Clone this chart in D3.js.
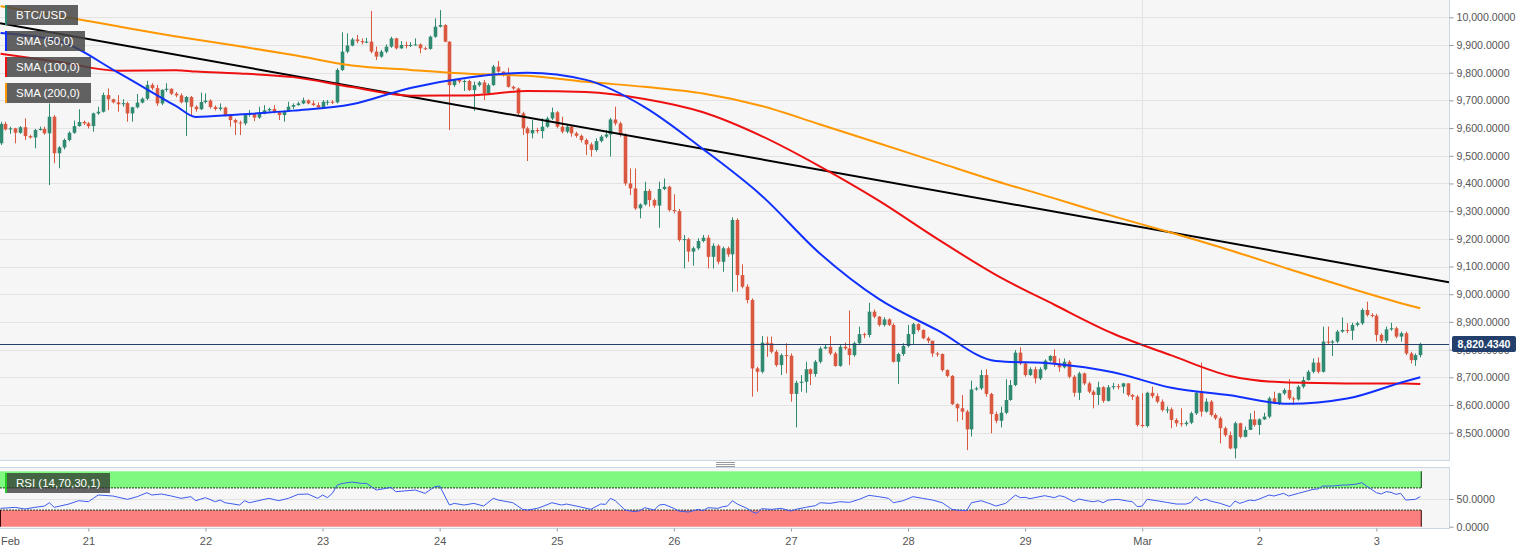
<!DOCTYPE html>
<html><head><meta charset="utf-8">
<script src="https://cdn.jsdelivr.net/npm/d3@7"></script>
<style>
body{margin:0;background:#fff;}
svg{display:block;font-family:"Liberation Sans",Arial,sans-serif;}
</style>
</head><body>
<svg id="chart" width="1536" height="553"></svg>
<script>
// ---------------- DATA ----------------
const symbol = "BTC/USD";
const firstCandleUTC = Date.UTC(2020, 1, 20, 6, 0); // hourly candles from Feb 20 06:00
const firstOpen = 9545;
const closes = [
9615,9595,9599,9583,9603,9571,9566,9593,9597,9581,9641,9509,9530,9557,9583,9607,9622,9617,9607,9653,
9659,9719,9704,9693,9686,9690,9653,9675,9692,9706,9756,9744,9689,9738,9742,9724,9718,9693,9712,9677,
9668,9694,9699,9676,9669,9674,9647,9629,9620,9617,9647,9653,9638,9653,9664,9669,9657,9647,9662,9677,
9683,9689,9700,9689,9683,9674,9695,9695,9693,9810,9876,9898,9920,9914,9910,9912,9876,9858,9876,9894,
9924,9888,9900,9898,9900,9902,9888,9886,9930,9966,9972,9912,9755,9774,9768,9770,9737,9755,9765,9725,
9755,9822,9804,9792,9749,9743,9653,9599,9581,9593,9589,9605,9635,9657,9605,9587,9605,9581,9572,9557,
9541,9521,9553,9569,9577,9631,9617,9575,9400,9382,9310,9324,9373,9340,9320,9380,9388,9304,9300,9196,
9199,9154,9166,9192,9204,9135,9175,9117,9166,9144,9268,9069,9027,8979,8732,8720,8825,8823,8792,8744,
8780,8778,8640,8680,8684,8729,8712,8756,8804,8810,8786,8741,8810,8804,8780,8823,8856,8853,8937,8919,
8889,8909,8889,8756,8784,8813,8856,8892,8871,8841,8832,8786,8784,8726,8705,8603,8588,8576,8512,8656,
8660,8708,8640,8567,8543,8572,8618,8672,8789,8750,8708,8729,8696,8729,8760,8777,8750,8736,8756,8702,
8644,8714,8678,8648,8636,8664,8615,8664,8668,8666,8678,8636,8630,8528,8524,8644,8632,8612,8582,8584,
8546,8534,8531,8536,8570,8644,8576,8612,8564,8552,8516,8491,8443,8534,8485,8510,8548,8528,8548,8558,
8624,8606,8642,8654,8624,8620,8666,8690,8720,8753,8720,8829,8825,8829,8865,8871,8868,8889,8895,8943,
8925,8922,8853,8832,8873,8877,8847,8859,8786,8762,8780,8820.434];
const highs = [
9623,9623,9605,9601,9607,9635,9576,9597,9605,9605,9689,9647,9535,9562,9588,9627,9668,9627,9622,9656,
9677,9728,9743,9706,9719,9704,9695,9677,9723,9711,9771,9762,9756,9740,9762,9743,9730,9725,9716,9716,
9682,9728,9725,9704,9682,9689,9677,9651,9634,9627,9651,9665,9645,9677,9683,9674,9683,9662,9665,9695,
9689,9695,9710,9704,9700,9693,9701,9701,9701,9816,9946,9942,9926,9936,9924,9926,10023,9894,9882,9902,
9930,9926,9914,9912,9910,9924,9906,9894,9934,9996,10026,9975,9914,9777,9775,9775,9774,9768,9770,9774,
9761,9828,9842,9804,9818,9753,9746,9659,9605,9629,9601,9635,9641,9674,9662,9641,9613,9609,9587,9577,
9563,9548,9563,9575,9593,9637,9677,9623,9581,9454,9454,9328,9406,9380,9346,9406,9418,9392,9361,9308,
9214,9204,9172,9202,9214,9214,9184,9180,9172,9172,9278,9274,9108,9036,8985,8738,8849,8847,8847,8799,
8786,8823,8786,8688,8708,8756,8732,8762,8811,8817,8849,8792,8817,8825,8941,8829,8883,8861,8969,8945,
8921,8917,8913,8895,8789,8823,8889,8897,8895,8873,8847,8832,8792,8786,8729,8708,8606,8636,8582,8688,
8666,8726,8729,8644,8576,8594,8693,8690,8798,8808,8756,8736,8738,8736,8765,8780,8801,8768,8768,8762,
8708,8720,8717,8684,8654,8684,8668,8672,8680,8676,8680,8664,8640,8636,8642,8648,8666,8642,8620,8594,
8591,8552,8588,8543,8576,8648,8753,8624,8618,8570,8558,8522,8504,8540,8536,8522,8570,8579,8552,8572,
8630,8648,8644,8660,8693,8630,8672,8702,8726,8768,8772,8883,8883,8835,8871,8916,8895,8897,8901,8949,
8973,8931,8929,8859,8883,8897,8883,8865,8865,8792,8786,8825];
const lows = [
9539,9591,9579,9545,9579,9557,9562,9527,9591,9576,9394,9473,9455,9523,9552,9579,9605,9611,9599,9587,
9648,9656,9665,9689,9659,9677,9623,9623,9671,9689,9701,9737,9680,9683,9731,9719,9711,9689,9571,9647,
9659,9665,9689,9670,9663,9663,9641,9605,9575,9575,9610,9641,9625,9633,9650,9659,9653,9629,9623,9659,
9669,9680,9686,9686,9680,9669,9669,9683,9686,9689,9806,9870,9895,9906,9902,9906,9870,9846,9854,9870,
9890,9884,9886,9888,9893,9898,9870,9882,9883,9926,9963,9910,9593,9749,9761,9734,9734,9662,9749,9701,
9722,9753,9800,9786,9746,9737,9647,9575,9481,9563,9581,9563,9601,9629,9599,9581,9581,9569,9565,9548,
9503,9497,9515,9548,9563,9497,9609,9569,9392,9358,9304,9274,9320,9316,9312,9240,9376,9298,9292,9190,
9093,9117,9103,9160,9187,9093,9093,9108,9081,9135,9009,9009,9021,8967,8630,8648,8714,8774,8786,8738,
8708,8714,8612,8519,8648,8644,8672,8702,8750,8801,8780,8738,8738,8799,8744,8774,8817,8841,8844,8913,
8883,8883,8885,8753,8676,8777,8808,8817,8865,8837,8823,8774,8774,8720,8700,8600,8540,8546,8437,8486,
8652,8654,8630,8498,8534,8519,8567,8615,8668,8744,8702,8705,8678,8690,8724,8756,8738,8720,8732,8696,
8630,8618,8672,8642,8588,8600,8608,8612,8656,8656,8642,8630,8618,8522,8519,8519,8624,8606,8576,8570,
8516,8522,8522,8524,8531,8564,8558,8572,8558,8546,8461,8485,8440,8407,8479,8483,8512,8522,8492,8546,
8552,8603,8600,8636,8618,8600,8616,8660,8688,8714,8714,8717,8817,8777,8823,8861,8859,8835,8883,8889,
8919,8916,8829,8825,8823,8868,8841,8829,8780,8750,8741,8772];

// moving averages at these candle indices
const smaIdx = [0,12,24,36,40,48,60,72,84,96,108,120,132,144,156,168,180,192,204,216,228,240,252,264,276,288,291];
const sma50  = [9943,9914,9801,9679,9640,9648,9663,9686,9745,9783,9800,9774,9676,9524,9356,9146,8983,8870,8759,8749,8718,8662,8635,8604,8623,8686,8700];
const sma100 = [9868,9839,9807,9809,9804,9798,9784,9748,9717,9718,9734,9730,9705,9657,9571,9461,9338,9200,9070,8962,8858,8779,8705,8681,8678,8678,8676];
const sma200 = [10040,10005,9968,9931,9920,9898,9864,9826,9810,9796,9789,9767,9749,9725,9680,9613,9545,9477,9409,9346,9282,9222,9159,9091,9025,8963,8949];

// trend line anchors (candle index, price)
const trendIdx = [0, 291];
const trendVal = [9978, 9062];

const lastPrice = 8820.434;

const rsiIdx = [0,3,5,7,9,10,11,14,16,18,19,20,23,26,28,30,31,33,35,37,39,40,42,44,45,46,49,50,51,55,57,59,61,63,65,66,67,68,69,70,72,74,75,77,79,80,81,85,87,89,90,92,93,95,97,99,101,102,105,107,108,110,111,113,115,116,118,121,123,124,125,126,128,130,131,132,134,135,136,138,139,141,143,144,145,147,148,149,150,151,153,154,155,156,158,160,162,163,165,167,168,170,172,174,176,178,180,182,183,185,187,189,191,193,195,196,198,199,201,203,204,206,208,209,210,211,212,214,216,217,218,220,221,223,224,225,226,227,229,231,232,233,234,235,237,239,241,243,244,245,246,247,248,250,252,253,254,255,256,257,258,260,261,263,264,266,268,269,270,271,273,275,276,278,279,280,282,283,284,285,286,287,288,290,291];
const rsiVal = [33.1,34.9,31.9,34.9,37.3,43.3,34.9,40.9,46.9,45.1,51.2,57.2,55.4,49.4,54.2,61.4,57.2,59,55.4,51.2,54.2,46.9,52.4,45.1,48.1,43.3,39.1,46.9,43.3,51.2,46.9,51.2,58.4,59,51.2,57.2,52.4,60.2,75,78,80.6,78.2,78.2,66.2,69.2,71,63.2,66.2,60.2,72.2,73.4,39.1,42.1,39.1,42.1,37.3,51.2,48.1,43.3,31.3,30.1,33.1,36.1,43.3,39.1,40.9,37.3,31.3,40.9,40.3,51.2,46.9,30.1,27.1,28.9,34.3,30.1,39.1,40.3,33.1,28.3,26.5,31.3,28.9,34.3,33.1,36.1,37.3,46.9,40.9,33.1,27.1,24.1,32.5,31.3,33.1,28.3,31.3,34.9,37.9,43.3,42.1,45.1,43.9,49.4,56.6,54.2,51.2,43.3,46.9,54.2,51.2,48.1,43.3,31.3,30.1,28.9,43.3,46.9,40.9,37.3,42.1,57,52.4,53,50.6,52.4,56,52.4,56,54.2,45.1,50,46.3,45.1,46.9,43.3,48.1,49.4,46.3,45.1,36.1,37.3,49.4,46.9,43.9,40.9,40.9,43.9,54.2,46.9,50,46.3,42.1,36.1,46.3,42.1,45.1,48.1,46.9,50,57.2,55.4,60.2,55.4,60.2,65,67.4,68,73.4,73.4,75.2,75.2,77,79.4,73.4,61.4,59,63.2,62,58.4,60.2,48.1,49.4,54.2];

const priceTicks = [8500,8600,8700,8800,8900,9000,9100,9200,9300,9400,9500,9600,9700,9800,9900,10000];
const rsiTicks = [0, 50];
const rsiLevels = [30, 70];
const legendItems = [
  {label: "BTC/USD", color: "#2a8a72"},
  {label: "SMA (50,0)", color: "#1030ff"},
  {label: "SMA (100,0)", color: "#ee1010"},
  {label: "SMA (200,0)", color: "#ff9800"}
];
const legendW = [73, 80, 86, 86];
const rsiLabel = "RSI (14,70,30,1)";

// ---------------- LAYOUT ----------------
const plotR = 1449, mainTop = 0, mainBot = 460, rsiTop = 468, rsiBot = 528;
const svg = d3.select("#chart");
const HOUR = 3600e3;
const time = i => new Date(firstCandleUTC + i * HOUR);

const x = d3.scaleUtc()
  .domain([new Date(Date.UTC(2020,1,20,5,53)), new Date(Date.UTC(2020,2,3,14,53))])
  .range([0, plotR]);
const y = d3.scaleLinear().domain([8401.3, 10062.5]).range([mainBot, mainTop]);
const yr = d3.scaleLinear().domain([0, 100]).range([526.7, 471.3]);

const UP = "#2f8a71", DOWN = "#d9583f";
const plotBg = "#f6f6f6", frame = "#cdd6e6", grid = "#e3e3e3", axisText = "#555";

svg.append("rect").attr("width", 1536).attr("height", 553).attr("fill", "#fff");
svg.append("rect").attr("x", 0).attr("y", mainTop).attr("width", plotR).attr("height", mainBot - mainTop).attr("fill", plotBg);
svg.append("rect").attr("x", 0).attr("y", rsiTop).attr("width", plotR).attr("height", rsiBot - rsiTop).attr("fill", plotBg);

const defs = svg.append("defs");
defs.append("clipPath").attr("id", "clipMain")
  .append("rect").attr("x", 0).attr("y", mainTop).attr("width", plotR).attr("height", mainBot - mainTop);
defs.append("clipPath").attr("id", "clipRsi")
  .append("rect").attr("x", 0).attr("y", rsiTop).attr("width", plotR).attr("height", rsiBot - rsiTop);

// grid
const gMain = svg.append("g").attr("clip-path", "url(#clipMain)");
gMain.selectAll("line.h").data(priceTicks).join("line")
  .attr("x1", 0).attr("x2", plotR)
  .attr("y1", d => Math.round(y(d)) + 0.5).attr("y2", d => Math.round(y(d)) + 0.5)
  .attr("stroke", grid).attr("stroke-width", 1);
const marX = Math.round(x(new Date(Date.UTC(2020,2,1)))) + 0.5;
gMain.append("line").attr("x1", marX).attr("x2", marX).attr("y1", mainTop).attr("y2", mainBot)
  .attr("stroke", "#e2e2e2");

// candles
const candles = closes.map((c, i) => {
  const o = i === 0 ? firstOpen : closes[i - 1];
  return {t: time(i), o, c, h: Math.max(highs[i], o, c), l: Math.min(lows[i], o, c)};
});
const cg = gMain.append("g");
cg.selectAll("line.wick").data(candles).join("line")
  .attr("x1", d => Math.round(x(d.t)) + 0.5).attr("x2", d => Math.round(x(d.t)) + 0.5)
  .attr("y1", d => y(d.h)).attr("y2", d => y(d.l))
  .attr("stroke", d => d.c >= d.o ? UP : DOWN).attr("stroke-width", 1);
cg.selectAll("rect.body").data(candles).join("rect")
  .attr("x", d => Math.round(x(d.t)) - 1.3).attr("width", 3.6)
  .attr("y", d => y(Math.max(d.o, d.c)))
  .attr("height", d => Math.max(1, Math.abs(y(d.o) - y(d.c))))
  .attr("fill", d => d.c >= d.o ? UP : DOWN);

// trend line extended over full width
const slope = (trendVal[1] - trendVal[0]) / (trendIdx[1] - trendIdx[0]);
const idxAt = t => (t - firstCandleUTC) / HOUR;
const [d0, d1] = x.domain();
const tv = t => trendVal[0] + slope * (idxAt(t) - trendIdx[0]);
gMain.append("line")
  .attr("x1", x(d0)).attr("y1", y(tv(d0)))
  .attr("x2", x(d1)).attr("y2", y(tv(d1)))
  .attr("stroke", "#000").attr("stroke-width", 2);

// SMAs
const smaLine = d3.line().x(d => x(time(d[0]))).y(d => y(d[1])).curve(d3.curveMonotoneX);
[[sma200, "#ff9800"], [sma100, "#ee1010"], [sma50, "#1030ff"]].forEach(([vals, col]) => {
  gMain.append("path").datum(smaIdx.map((k, j) => [k, vals[j]]))
    .attr("d", smaLine).attr("fill", "none").attr("stroke", col).attr("stroke-width", 2);
});

// current price line
const yp = Math.round(y(lastPrice)) + 0.5;
svg.append("line").attr("x1", 0).attr("x2", plotR).attr("y1", yp).attr("y2", yp)
  .attr("stroke", "#22406b").attr("stroke-width", 1);

// frames
svg.append("line").attr("x1", plotR + 0.5).attr("x2", plotR + 0.5).attr("y1", mainTop).attr("y2", mainBot).attr("stroke", frame);
svg.append("line").attr("x1", 0).attr("x2", plotR + 1).attr("y1", mainBot + 0.5).attr("y2", mainBot + 0.5).attr("stroke", frame);
svg.append("line").attr("x1", plotR + 0.5).attr("x2", plotR + 0.5).attr("y1", rsiTop).attr("y2", rsiBot).attr("stroke", frame);
svg.append("line").attr("x1", 0).attr("x2", plotR + 1).attr("y1", rsiBot + 0.5).attr("y2", rsiBot + 0.5).attr("stroke", frame);
svg.append("line").attr("x1", 0).attr("x2", plotR + 1).attr("y1", rsiTop - 0.5).attr("y2", rsiTop - 0.5).attr("stroke", frame);
[462.5, 464.5, 466.5].forEach(hy => svg.append("line").attr("x1", 716).attr("x2", 735).attr("y1", hy).attr("y2", hy).attr("stroke", "#9a9a9a"));

// price axis
const yAxis = d3.axisRight(y).tickValues(priceTicks).tickFormat(d3.format(",.4f")).tickSize(4).tickPadding(3);
const ga = svg.append("g").attr("transform", `translate(${plotR + 0.5},0)`).call(yAxis);
ga.select(".domain").remove();
ga.selectAll("line").attr("stroke", "#999");
ga.selectAll("text").attr("fill", axisText).attr("font-size", 10.6).attr("font-family", "Liberation Sans, Arial, sans-serif");

// last price label (drawn over the axis, as in the reference)
svg.append("rect").attr("x", 1452).attr("y", yp - 8.5).attr("width", 64).attr("height", 16).attr("rx", 2).attr("fill", "#22406b");
svg.append("text").attr("x", 1484).attr("y", yp + 3.5).attr("text-anchor", "middle")
  .attr("fill", "#fff").attr("font-size", 10.6).attr("font-weight", "bold").text(d3.format(",.4f")(lastPrice));

// ---- RSI panel ----
const gR = svg.append("g").attr("clip-path", "url(#clipRsi)");
const xEnd = x(time(closes.length - 1)) + 1;
gR.append("line").attr("x1", 0).attr("x2", plotR).attr("y1", Math.round(yr(50)) + 0.5).attr("y2", Math.round(yr(50)) + 0.5).attr("stroke", grid);
gR.append("line").attr("x1", marX).attr("x2", marX).attr("y1", rsiTop).attr("y2", rsiBot).attr("stroke", "#e2e2e2");
gR.append("rect").attr("x", 0).attr("width", xEnd).attr("y", yr(100)).attr("height", yr(rsiLevels[1]) - yr(100)).attr("fill", "#80f980");
gR.append("rect").attr("x", 0).attr("width", xEnd).attr("y", yr(rsiLevels[0])).attr("height", yr(0) - yr(rsiLevels[0])).attr("fill", "#fb7f7f");
gR.selectAll("line.lvl").data(rsiLevels).join("line")
  .attr("x1", 0).attr("x2", xEnd).attr("y1", d => yr(d)).attr("y2", d => yr(d))
  .attr("stroke", "#1d3a1d").attr("stroke-dasharray", "2,1").attr("stroke-width", 1);
gR.append("line").attr("x1", xEnd).attr("x2", xEnd).attr("y1", yr(100)).attr("y2", yr(rsiLevels[1])).attr("stroke", "#0a3a0a");
gR.append("line").attr("x1", xEnd).attr("x2", xEnd).attr("y1", yr(rsiLevels[0])).attr("y2", yr(0)).attr("stroke", "#3a0a0a");
gR.append("line").attr("x1", 0.5).attr("x2", 0.5).attr("y1", yr(rsiLevels[0])).attr("y2", yr(0)).attr("stroke", "#3a0a0a");
gR.append("path").datum(rsiIdx.map((k, j) => [k, rsiVal[j]]))
  .attr("d", d3.line().x(d => x(time(d[0]))).y(d => yr(d[1])))
  .attr("fill", "none").attr("stroke", "#3d5cf0").attr("stroke-width", 1);

const rAxis = d3.axisRight(yr).tickValues(rsiTicks).tickFormat(d3.format(".4f")).tickSize(4).tickPadding(3);
const gra = svg.append("g").attr("transform", `translate(${plotR + 0.5},0)`).call(rAxis);
gra.select(".domain").remove();
gra.selectAll("line").attr("stroke", "#999");
gra.selectAll("text").attr("fill", axisText).attr("font-size", 10.6).attr("font-family", "Liberation Sans, Arial, sans-serif");

// time axis
const dayTicks = d3.utcDay.range(new Date(Date.UTC(2020,1,21)), new Date(Date.UTC(2020,2,3,1)));
const xAxis = d3.axisBottom(x).tickValues(dayTicks).tickSize(3).tickPadding(6)
  .tickFormat(d => d.getUTCDate() === 1 ? d3.utcFormat("%b")(d) : d.getUTCDate());
const gx = svg.append("g").attr("transform", `translate(0,${rsiBot + 0.5})`).call(xAxis);
gx.select(".domain").remove();
gx.selectAll("line").attr("stroke", "#999");
gx.selectAll("text").attr("fill", axisText).attr("font-size", 11).attr("font-family", "Liberation Sans, Arial, sans-serif");
svg.append("text").attr("x", 1).attr("y", 545).attr("fill", axisText).attr("font-size", 11)
  .text(d3.utcFormat("%b")(time(0)));

// legend boxes
const lg = svg.append("g");
legendItems.forEach((it, k) => {
  const by = 5 + k * 26;
  lg.append("rect").attr("x", 5).attr("y", by).attr("width", legendW[k]).attr("height", 20).attr("fill", "#474747").attr("opacity", 0.85);
  lg.append("rect").attr("x", 5).attr("y", by).attr("width", 2).attr("height", 20).attr("fill", it.color);
  lg.append("text").attr("x", 16).attr("y", by + 14).attr("fill", "#fff").attr("font-size", 11.5).text(it.label);
});
lg.append("rect").attr("x", 5).attr("y", 473).attr("width", 105).attr("height", 20).attr("fill", "#2b2b2b").attr("opacity", 0.72);
lg.append("rect").attr("x", 5).attr("y", 473).attr("width", 2).attr("height", 20).attr("fill", "#22cc22");
lg.append("text").attr("x", 16).attr("y", 487).attr("fill", "#fff").attr("font-size", 11.5).text(rsiLabel);
</script>
</body></html>
